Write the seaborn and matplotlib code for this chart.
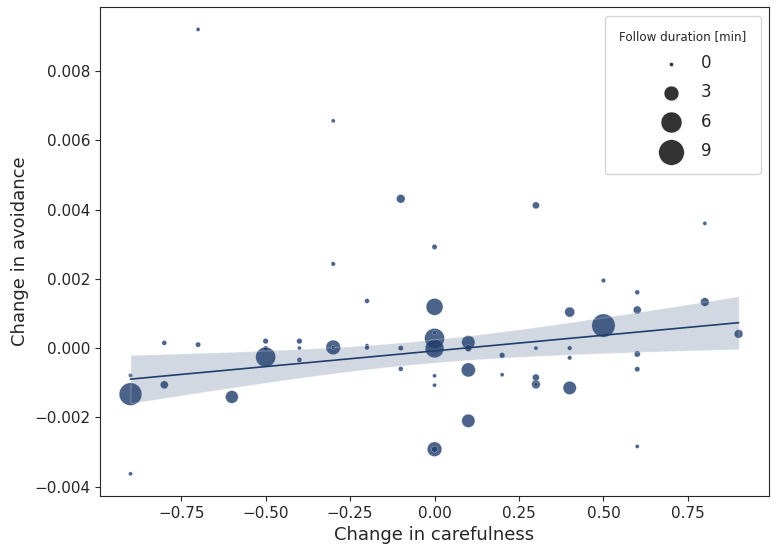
import numpy as np
import pandas as pd
import matplotlib
matplotlib.use('Agg')
import matplotlib.pyplot as plt
import seaborn as sns

sns.set_style('ticks')

# change in carefulness (x), change in avoidance (y), follow duration in minutes
carefulness = [
    -0.9, -0.9, -0.9,
    -0.8, -0.8,
    -0.7, -0.7,
    -0.6,
    -0.5, -0.5, -0.5,
    -0.4, -0.4, -0.4,
    -0.3, -0.3, -0.3, -0.3,
    -0.2, -0.2, -0.2,
    -0.1, -0.1, -0.1,
    0.0, 0.0, 0.0, 0.0, 0.0, 0.0, 0.0, 0.0, 0.0,
    0.1, 0.1, 0.1, 0.1,
    0.2, 0.2,
    0.3, 0.3, 0.3, 0.3, 0.3,
    0.4, 0.4, 0.4, 0.4,
    0.5, 0.5,
    0.6, 0.6, 0.6, 0.6, 0.6,
    0.8, 0.8,
    0.9,
]
avoidance = [
    -0.00079, -0.00133, -0.00363,
    0.00015, -0.00106,
    0.00920, 0.00010,
    -0.00141,
    0.00020, 0.00000, -0.00026,
    0.00020, 0.00000, -0.00034,
    0.00002, 0.00002, 0.00243, 0.00656,
    0.00136, 0.00007, 0.00001,
    0.00431, 0.00000, -0.00060,
    0.00119, 0.00028, 0.00044, -0.00001, -0.00080, -0.00107, -0.00292, -0.00292, 0.00292,
    0.00017, 0.00000, -0.00063, -0.00210,
    -0.00021, -0.00077,
    0.00000, -0.00085, -0.00105, -0.00105, 0.00412,
    0.00104, 0.00000, -0.00028, -0.00115,
    0.00195, 0.00065,
    0.00161, 0.00110, -0.00017, -0.00061, -0.00284,
    0.00133, 0.00360,
    0.00041,
]
duration = [
    0.20, 7.00, 0.20,
    0.30, 0.85,
    0.20, 0.35,
    2.20,
    0.40, 0.25, 5.40,
    0.40, 0.20, 0.30,
    2.90, 0.20, 0.25, 0.20,
    0.30, 0.20, 0.25,
    1.00, 0.35, 0.30,
    3.90, 5.40, 0.20, 4.80, 0.20, 0.20, 2.90, 0.50, 0.35,
    2.40, 0.65, 2.70, 2.40,
    0.40, 0.20,
    0.20, 0.65, 1.00, 0.20, 0.65,
    1.35, 0.25, 0.25, 2.40,
    0.25, 7.40,
    0.30, 0.85, 0.50, 0.35, 0.20,
    1.00, 0.20,
    1.00,
]
legend_levels = [0, 3, 6, 9]

df = pd.DataFrame({'carefulness': carefulness, 'avoidance': avoidance, 'duration': duration})

color = '#1f3d6d'
size_range = (8.3, 280)  # marker area in pt^2 for shortest / longest follow
dur_min, dur_max = min(duration), max(duration)


def marker_area(minutes):
    s = size_range[0] + (minutes - dur_min) / (dur_max - dur_min) * (size_range[1] - size_range[0])
    return max(s, size_range[0])


fig, ax = plt.subplots(figsize=(7.76, 5.53), dpi=100)
fig.subplots_adjust(left=0.129, right=0.991, top=0.987, bottom=0.103)

sns.scatterplot(data=df, x='carefulness', y='avoidance', size='duration',
                sizes=size_range, color=color, alpha=0.8, legend=False, ax=ax)

# linear fit weighted by follow duration (frequency weights), 95% band
x = df['carefulness'].to_numpy()
y = df['avoidance'].to_numpy()
w = df['duration'].to_numpy()
X = np.column_stack([np.ones_like(x), x])
XtWX = X.T @ (X * w[:, None])
beta = np.linalg.solve(XtWX, X.T @ (w * y))
resid = y - X @ beta
sigma2 = np.sum(w * resid ** 2) / (w.sum() - 2)
cov = sigma2 * np.linalg.inv(XtWX)
grid = np.linspace(x.min(), x.max(), 100)
G = np.column_stack([np.ones_like(grid), grid])
fit = G @ beta
se = np.sqrt(np.einsum('ij,jk,ik->i', G, cov, G))
t_crit = 1.993
ax.fill_between(grid, fit - t_crit * se, fit + t_crit * se, facecolor=color, alpha=0.2)
sns.lineplot(x=grid, y=fit, color=color, lw=1.2, ax=ax)

ax.set_xlabel('Change in carefulness', fontsize=13)
ax.set_ylabel('Change in avoidance', fontsize=13)
ax.tick_params(labelsize=11)

# size legend
handles = [ax.scatter([], [], s=marker_area(l), color='.2', edgecolor='w', linewidth=0.3)
           for l in legend_levels]
ax.legend(handles, [str(l) for l in legend_levels], title='Follow duration [min]',
          loc='upper right', fontsize=12, title_fontsize=8.6, labelspacing=0.68,
          borderpad=0.85, handletextpad=0.8)

fig.savefig('out.png', dpi=100)
